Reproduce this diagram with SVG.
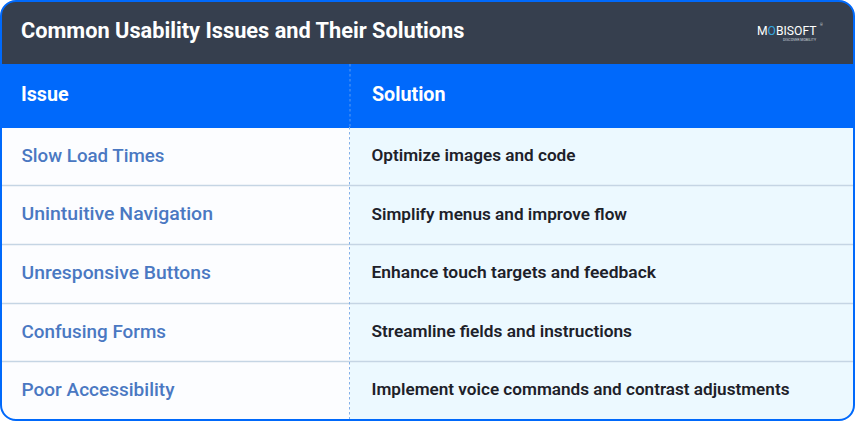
<svg xmlns="http://www.w3.org/2000/svg" width="855" height="421" viewBox="0 0 855 421">
<style>
text{font-family:Roboto,"Liberation Sans",sans-serif}
.h{font-size:19.700px;font-weight:700;fill:#fff}
.i{font-size:19px;font-weight:500;fill:#4a78c2}
.s{font-size:17.100px;font-weight:600;fill:#1d2129}
.r{stroke:#c5d5e4;stroke-width:1.6}
.d{stroke:#84b1e8;stroke-width:1;stroke-dasharray:2.5 2.5}
</style>
<defs><clipPath id="c"><rect x="1" y="1" width="853" height="419" rx="15"/></clipPath></defs>
<g clip-path="url(#c)">
<rect width="855" height="421" fill="#fcfdff"/>
<rect x="350" y="127" width="505" height="294" fill="#ecf9ff"/>
<rect y="0" width="855" height="64" fill="#363f4e"/>
<rect y="64" width="855" height="64" fill="#0069fb"/>
</g>
<g id="rows">
<line class="r" x1="2" y1="185.500" x2="853" y2="185.500"/>
<line class="r" x1="2" y1="244.500" x2="853" y2="244.500"/>
<line class="r" x1="2" y1="303.500" x2="853" y2="303.500"/>
<line class="r" x1="2" y1="361.500" x2="853" y2="361.500"/>
<line class="d" x1="350" y1="64" x2="350" y2="127" style="stroke:#5c9cf0"/>
<line class="d" x1="349.500" y1="127" x2="349.500" y2="419"/>
</g>
<rect x="1" y="1" width="853" height="419" rx="15" fill="none" stroke="#0069fb" stroke-width="2"/>
<g id="title"><text class="h" x="21" y="37.500" style="font-size:21.750px">Common Usability Issues and Their Solutions</text></g>
<g id="logo">
<text x="757" y="34.500" style="font-size:13.400px;font-weight:400;fill:#fff" textLength="59.500" lengthAdjust="spacingAndGlyphs">M<tspan style="fill:#35a8e0">O</tspan>BISOFT</text>
<text x="820" y="26" style="font-size:3.500px;fill:#cfd5dc">®</text>
<text x="783" y="40.500" style="font-size:3.500px;fill:#cfd5dc" textLength="33" lengthAdjust="spacingAndGlyphs">DISCOVER MOBILITY</text>
</g>
<g id="header-issue"><text class="h" x="21" y="101">Issue</text></g>
<g id="header-solution"><text class="h" x="372" y="101">Solution</text></g>
<g id="row1"><text class="i" x="21.500" y="161.500" textLength="143" lengthAdjust="spacingAndGlyphs">Slow Load Times</text><text class="s" x="371.500" y="161" textLength="204" lengthAdjust="spacingAndGlyphs">Optimize images and code</text></g>
<g id="row2"><text class="i" x="21.500" y="220" textLength="191.500" lengthAdjust="spacingAndGlyphs">Unintuitive Navigation</text><text class="s" x="371.500" y="219.500" textLength="255.500" lengthAdjust="spacingAndGlyphs">Simplify menus and improve flow</text></g>
<g id="row3"><text class="i" x="21.500" y="279" textLength="189.500" lengthAdjust="spacingAndGlyphs">Unresponsive Buttons</text><text class="s" x="371.500" y="278" textLength="284.500" lengthAdjust="spacingAndGlyphs">Enhance touch targets and feedback</text></g>
<g id="row4"><text class="i" x="21.500" y="337.500" textLength="144.500" lengthAdjust="spacingAndGlyphs">Confusing Forms</text><text class="s" x="371.500" y="336.500" textLength="260.500" lengthAdjust="spacingAndGlyphs">Streamline fields and instructions</text></g>
<g id="row5"><text class="i" x="21.500" y="396" textLength="153" lengthAdjust="spacingAndGlyphs">Poor Accessibility</text><text class="s" x="371.500" y="395" textLength="418" lengthAdjust="spacingAndGlyphs">Implement voice commands and contrast adjustments</text></g>
</svg>
